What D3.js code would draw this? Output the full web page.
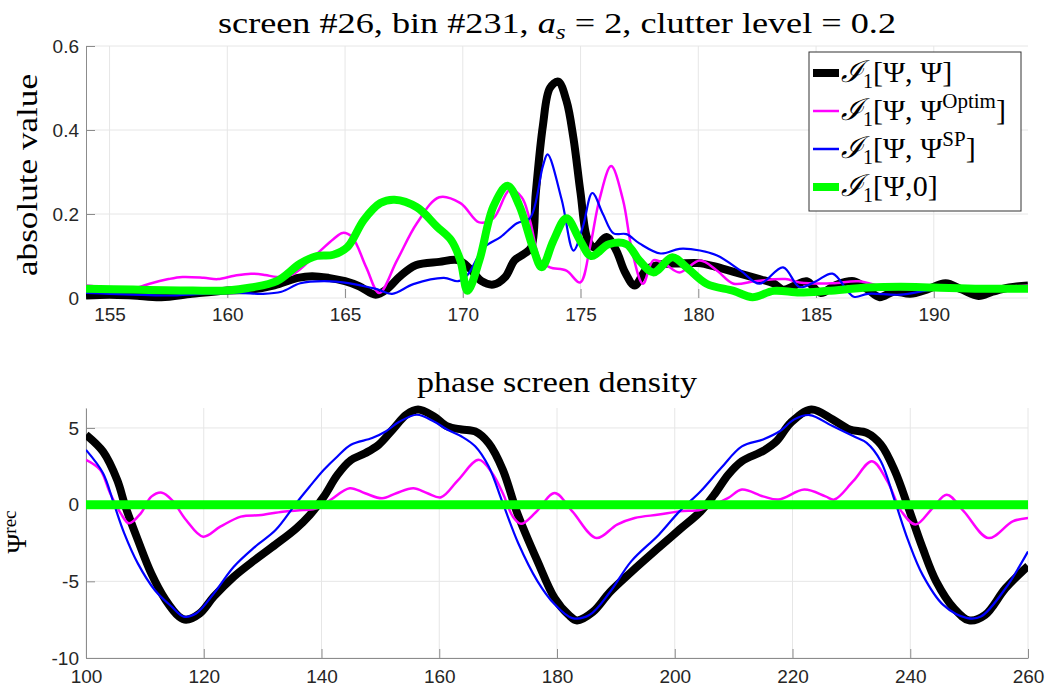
<!DOCTYPE html>
<html><head><meta charset="utf-8">
<script src="https://cdn.jsdelivr.net/npm/d3@7"></script>
<style>
html,body{margin:0;padding:0;background:#fff;}
svg{display:block;}
</style></head>
<body><svg id="chart" width="1064" height="689"></svg>
<script>
// ---------- DATA ----------
const topXTicks = [155, 160, 165, 170, 175, 180, 185, 190];
const topYTicks = [0, 0.2, 0.4, 0.6];
const botXTicks = [100, 120, 140, 160, 180, 200, 220, 240, 260];
const botYTicks = [-10, -5, 0, 5];

// Top panel: |I1| vs bin
const blackTopX = [154,155,156,157.2,158.5,160,161,162,163,163.6,164.3,165,165.6,166.3,166.8,167.3,168,169,169.8,170.3,170.8,171.3,171.8,172.2,172.6,172.9,173.1,173.4,173.7,174.05,174.4,174.7,175.0,175.3,175.6,176.1,176.5,176.9,177.3,177.8,178.4,179.2,180,180.7,181.5,182.6,183.2,183.6,184.1,184.6,185.2,185.8,186.6,187.2,187.7,188.3,189,189.7,190.5,191.2,191.9,192.5,193.2,194];
const blackTopY = [0.006,0.008,0.006,0.002,0.01,0.018,0.02,0.03,0.048,0.052,0.048,0.04,0.028,0.008,0.022,0.05,0.078,0.086,0.09,0.07,0.04,0.032,0.05,0.09,0.105,0.12,0.25,0.41,0.50,0.515,0.47,0.38,0.25,0.14,0.12,0.145,0.115,0.06,0.03,0.068,0.08,0.082,0.083,0.075,0.062,0.045,0.035,0.02,0.03,0.04,0.012,0.03,0.04,0.02,0.002,0.015,0.01,0.02,0.035,0.02,0.005,0.015,0.025,0.03];

const magentaTopX = [154,154.8,155.5,156.2,156.7,157.5,158.1,159,159.6,160.3,161,161.6,162.1,162.8,163.8,164.5,164.9,165.3,165.9,166.45,167.2,168.05,169.0,169.9,170.7,171.3,172.0,172.5,172.85,173.3,173.7,174.4,174.98,175.4,175.8,176.3,176.8,177.2,177.65,178.1,178.6,179.2,180.07,180.8,181.5,182.4,183.7,184.3,185.7,186.8,188,189.5,191,192.5,194];
const magentaTopY = [0.03,0.025,0.018,0.025,0.034,0.045,0.05,0.048,0.045,0.053,0.058,0.055,0.05,0.057,0.105,0.14,0.155,0.145,0.073,0.012,0.089,0.178,0.24,0.226,0.18,0.19,0.258,0.24,0.185,0.089,0.073,0.065,0.037,0.121,0.234,0.314,0.234,0.109,0.034,0.09,0.08,0.061,0.089,0.065,0.034,0.04,0.045,0.037,0.035,0.04,0.025,0.02,0.022,0.025,0.03];

const blueTopX = [154,155,156,157.5,159,160.5,161.5,162.3,163.1,164.1,165.2,166.35,167.0,167.9,169.2,169.8,170.2,170.9,171.6,172.3,172.85,173.4,173.6,174.2,174.7,175.1,175.5,175.95,176.4,176.95,177.5,178.4,179.2,180.07,180.8,181.8,182.6,183.6,184.3,185.0,185.7,186.6,187.2,188.6,190,191.5,193,194];
const blueTopY = [0.012,0.01,0.008,0.006,0.01,0.012,0.01,0.015,0.035,0.04,0.035,0.021,0.01,0.033,0.048,0.04,0.055,0.12,0.145,0.178,0.19,0.314,0.342,0.234,0.113,0.17,0.25,0.2,0.154,0.152,0.13,0.106,0.117,0.113,0.101,0.065,0.034,0.073,0.026,0.04,0.058,0.003,0.01,0.008,0.02,0.02,0.025,0.025];

const greenTopX = [154,156,158,160,161,162.1,163.1,163.8,164.5,165.1,165.8,166.5,167.1,168.05,168.9,169.5,169.9,170.2,170.7,171.3,171.9,172.4,172.98,173.35,173.85,174.4,174.98,175.45,176.2,176.95,177.5,178.1,178.9,179.5,180.35,181.5,182.3,183.2,184.3,185.5,187.2,188.6,190,192,194];
const greenTopY = [0.022,0.02,0.018,0.018,0.025,0.04,0.082,0.1,0.103,0.121,0.186,0.226,0.234,0.216,0.17,0.138,0.089,0.017,0.089,0.218,0.267,0.22,0.12,0.073,0.137,0.19,0.137,0.1,0.128,0.128,0.089,0.061,0.097,0.073,0.034,0.017,0.002,0.017,0.013,0.017,0.025,0.027,0.025,0.022,0.022];

// Bottom panel: phase screen density
const blackBotX = [100,102.9,105.3,106.7,108.8,111.1,113.5,115.8,117.0,119.3,121.7,125.1,128.7,132.2,135.7,138.0,140.4,142.7,145.0,147.4,149.7,152.1,154.4,156.4,159.1,161.4,163.8,166.1,168.4,170.8,173.2,176.7,179.6,182.0,183.4,186.1,189.0,192.6,197.3,200.8,204.4,206.7,209.1,211.4,215.0,217.3,219.7,223.2,226.8,229.7,232.6,235.0,237.4,239.7,242.1,244.4,247.4,250.0,252.7,256.2,260];
const blackBotY = [4.55,3.45,1.6,-0.13,-2.3,-4.5,-6.2,-7.3,-7.5,-7.1,-6.0,-4.7,-3.6,-2.6,-1.55,-0.68,0.52,1.94,2.9,3.35,3.9,4.9,5.86,6.2,5.75,5.1,4.9,4.77,4.0,2.27,-0.5,-3.7,-6.1,-7.2,-7.55,-7.0,-5.7,-4.4,-2.8,-1.63,-0.44,0.65,1.96,2.83,3.5,4.14,5.34,6.2,5.56,4.9,4.68,3.92,2.18,-0.22,-2.83,-5.0,-6.75,-7.55,-7.2,-5.45,-4.0];

const blueBotX = [100,102.9,104.7,106.5,108.8,111.7,114.6,116.6,118.7,121.7,125.1,128.7,132.2,135.7,138.0,140.4,142.7,145.0,148.6,150.9,153.2,156.2,159.1,161.4,163.8,166.1,168.4,170.8,173.4,176.7,179.6,182.6,185.5,189.0,192.6,197.3,200.8,204.4,207.9,211.4,215.0,217.9,220.3,222.9,226.8,230.3,232.6,235.0,237.4,239.7,242.1,245.6,249.7,252.0,256.2,260];
const blueBotY = [3.57,2.05,0.1,-1.87,-3.83,-5.58,-6.67,-7.3,-7.1,-5.8,-4.05,-2.75,-1.66,0.09,1.18,2.27,3.14,3.9,4.34,4.77,5.4,5.86,5.42,4.88,4.44,3.8,2.48,0.09,-2.5,-5.0,-6.5,-7.4,-7.2,-5.7,-3.7,-1.96,-0.44,0.87,2.4,3.8,4.25,4.8,5.56,5.84,5.12,4.47,4.03,2.83,0.22,-2.4,-4.58,-6.54,-7.4,-7.3,-5.45,-3.05];

const magentaBotX = [100,102.4,104.1,105.9,107.3,109.3,111.1,112.9,114.6,117.0,119.9,122.8,126.3,129.8,133.4,136.9,139.2,141.5,144.8,147.4,150.3,152.7,155.6,158.0,160.3,163.2,166.7,169.0,170.8,172.5,173.9,176.4,179.6,182.6,186.7,190.2,193.2,197.3,200.8,204.4,206.7,209.1,211.4,215.0,217.6,222.0,225.6,227.1,230.3,233.5,236.1,238.5,240.9,243.8,246.2,249.1,253.3,257.4,260];
const magentaBotY = [2.92,2.27,0.74,-0.57,-1.22,-0.57,0.52,0.78,0.3,-1.0,-2.09,-1.44,-0.78,-0.68,-0.46,-0.35,-0.24,0.3,1.07,0.74,0.41,0.74,1.07,0.74,0.48,1.6,2.92,2.05,0.74,-0.78,-1.25,-0.5,0.75,-0.44,-2.18,-1.3,-0.87,-0.65,-0.44,-0.33,0,0.44,0.98,0.54,0.33,0.98,0.54,0.33,1.53,2.83,1.53,-0.44,-1.3,-0.22,0.65,-0.44,-2.18,-1.09,-0.87];

const greenBotX = [100,140,180,220,260];
const greenBotY = [0,0,0,0,0];

// ---------- DRAWING ----------
const svg = d3.select("#chart");
svg.append("rect").attr("width",1064).attr("height",689).attr("fill","#fff");

const SERIF = "'Liberation Serif','DejaVu Serif',serif";
const SANS = "'Liberation Sans',Arial,sans-serif";
const colors = {black:"#000000", magenta:"#ff00ff", blue:"#0000ff", green:"#00ff00"};
const GRID = "#e6e6e6", AX = "#8c8c8c", TXT = "#262626";

const xTop = d3.scaleLinear().domain([154,194]).range([86,1028]);
const yTop = d3.scaleLinear().domain([0,0.6]).range([298,46]);
const xBot = d3.scaleLinear().domain([100,260]).range([86,1028]);
const yBot = d3.scaleLinear().domain([-10,6.3]).range([658,408]);

function zip(xs, ys){ return xs.map((x,i)=>[x, ys[i]]); }
const hyph = f => d => f(d).replace("\u2212","-");

function panel(g, x, y, xt, yt, yFmt, showBottomDomain){
  const [x0,x1] = x.range(), [y0,y1] = y.range();
  g.append("g").selectAll("line").data(xt).join("line")
    .attr("x1",d=>x(d)).attr("x2",d=>x(d)).attr("y1",y0).attr("y2",y1)
    .attr("stroke",GRID).attr("stroke-width",1);
  g.append("g").selectAll("line").data(yt).join("line")
    .attr("x1",x0).attr("x2",x1).attr("y1",d=>y(d)).attr("y2",d=>y(d))
    .attr("stroke",GRID).attr("stroke-width",1);
  const ax = g.append("g").attr("transform",`translate(0,${y0})`)
    .call(d3.axisBottom(x).tickValues(xt).tickFormat(d3.format("d")).tickSizeInner(-9).tickSizeOuter(0).tickPadding(showBottomDomain?12:10));
  ax.selectAll("text").attr("font-family",SANS).attr("font-size",19).attr("fill",TXT);
  ax.selectAll("line").attr("stroke",AX);
  ax.select(".domain").attr("stroke",AX).attr("stroke-opacity", showBottomDomain?1:0);
  const ay = g.append("g").attr("transform",`translate(${x0},0)`)
    .call(d3.axisLeft(y).tickValues(yt).tickFormat(yFmt).tickSizeInner(-9).tickSizeOuter(0).tickPadding(7));
  ay.selectAll("text").attr("font-family",SANS).attr("font-size",19).attr("fill",TXT);
  ay.selectAll("line").attr("stroke",AX);
  ay.select(".domain").attr("stroke",AX);
}

function drawLine(g, x, y, xs, ys, color, w){
  const line = d3.line().x(d=>x(d[0])).y(d=>y(d[1])).curve(d3.curveCatmullRom.alpha(0.5));
  g.append("path").datum(zip(xs,ys)).attr("d",line)
    .attr("fill","none").attr("stroke",color).attr("stroke-width",w)
    .attr("stroke-linejoin","round").attr("stroke-linecap","butt");
}

// ---- top panel ----
const gTop = svg.append("g");
panel(gTop, xTop, yTop, topXTicks, topYTicks, d=> d===0?"0":d3.format(".1f")(d), false);
const clipTop = svg.append("clipPath").attr("id","clipTop");
clipTop.append("rect").attr("x",86).attr("y",30).attr("width",942).attr("height",275);
const linesTop = gTop.append("g").attr("clip-path","url(#clipTop)");
drawLine(linesTop, xTop, yTop, blackTopX, blackTopY, colors.black, 8);
drawLine(linesTop, xTop, yTop, magentaTopX, magentaTopY, colors.magenta, 2.5);
drawLine(linesTop, xTop, yTop, blueTopX, blueTopY, colors.blue, 2.2);
drawLine(linesTop, xTop, yTop, greenTopX, greenTopY, colors.green, 8);

// title
const t1 = svg.append("text").attr("x",557).attr("y",33).attr("text-anchor","middle")
  .attr("font-family",SERIF).attr("font-size",30).attr("fill","#000")
  .attr("textLength",678).attr("lengthAdjust","spacingAndGlyphs");
t1.append("tspan").text("screen #26, bin #231, ");
t1.append("tspan").attr("font-style","italic").text("a");
t1.append("tspan").attr("font-style","italic").attr("font-size",21).attr("dy",6).text("s");
t1.append("tspan").attr("dy",-6).text(" = 2, clutter level = 0.2");

// y label top
svg.append("text").attr("transform","translate(37,175) rotate(-90)").attr("text-anchor","middle")
  .attr("font-family",SERIF).attr("font-size",30).attr("fill","#000")
  .attr("textLength",202).attr("lengthAdjust","spacingAndGlyphs").text("absolute value");

// legend
const lg = svg.append("g");
lg.append("rect").attr("x",809).attr("y",52).attr("width",212).attr("height",159)
  .attr("fill","#fff").attr("stroke","#333").attr("stroke-width",1);
const legendItems = [
  {c:colors.black, w:8, sup:null, last:"Ψ]"},
  {c:colors.magenta, w:2.5, sup:"Optim", last:"Ψ"},
  {c:colors.blue, w:2.5, sup:"SP", last:"Ψ"},
  {c:colors.green, w:8, sup:null, last:"0]"}
];
legendItems.forEach((it,i)=>{
  const cy = 73 + i*38;
  lg.append("line").attr("x1",813).attr("x2",839).attr("y1",cy).attr("y2",cy)
    .attr("stroke",it.c).attr("stroke-width",it.w);
  const t = lg.append("text").attr("x",841).attr("y",cy+9)
    .attr("font-family",SERIF).attr("font-size",30).attr("fill","#000");
  t.append("tspan").attr("font-style","italic").text("ℐ");
  t.append("tspan").attr("font-size",20).attr("dy",6).text("1");
  t.append("tspan").attr("dy",-6).text(it.last==="0]" ? "[Ψ," : "[Ψ, ");
  if (it.sup){
    t.append("tspan").text("Ψ");
    t.append("tspan").attr("font-size",21).attr("dy",-12).text(it.sup);
    t.append("tspan").attr("dy",12).text("]");
  } else {
    t.append("tspan").text(it.last);
  }
});

// ---- bottom panel ----
const gBot = svg.append("g");
panel(gBot, xBot, yBot, botXTicks, botYTicks, hyph(d3.format("d")), true);
const clipBot = svg.append("clipPath").attr("id","clipBot");
clipBot.append("rect").attr("x",86).attr("y",398).attr("width",942).attr("height",265);
const linesBot = gBot.append("g").attr("clip-path","url(#clipBot)");
drawLine(linesBot, xBot, yBot, blackBotX, blackBotY, colors.black, 8);
drawLine(linesBot, xBot, yBot, magentaBotX, magentaBotY, colors.magenta, 2.5);
drawLine(linesBot, xBot, yBot, blueBotX, blueBotY, colors.blue, 2.2);
drawLine(linesBot, xBot, yBot, greenBotX, greenBotY, colors.green, 9);

svg.append("text").attr("x",557).attr("y",392).attr("text-anchor","middle")
  .attr("font-family",SERIF).attr("font-size",30).attr("fill","#000")
  .attr("textLength",280).attr("lengthAdjust","spacingAndGlyphs").text("phase screen density");

const yl = svg.append("text").attr("transform","translate(26,532) rotate(-90)").attr("text-anchor","middle")
  .attr("font-family",SERIF).attr("font-size",27).attr("fill","#000");
yl.append("tspan").text("Ψ");
yl.append("tspan").attr("font-size",19).attr("dy",-10).text("rec");
</script>
</body></html>
